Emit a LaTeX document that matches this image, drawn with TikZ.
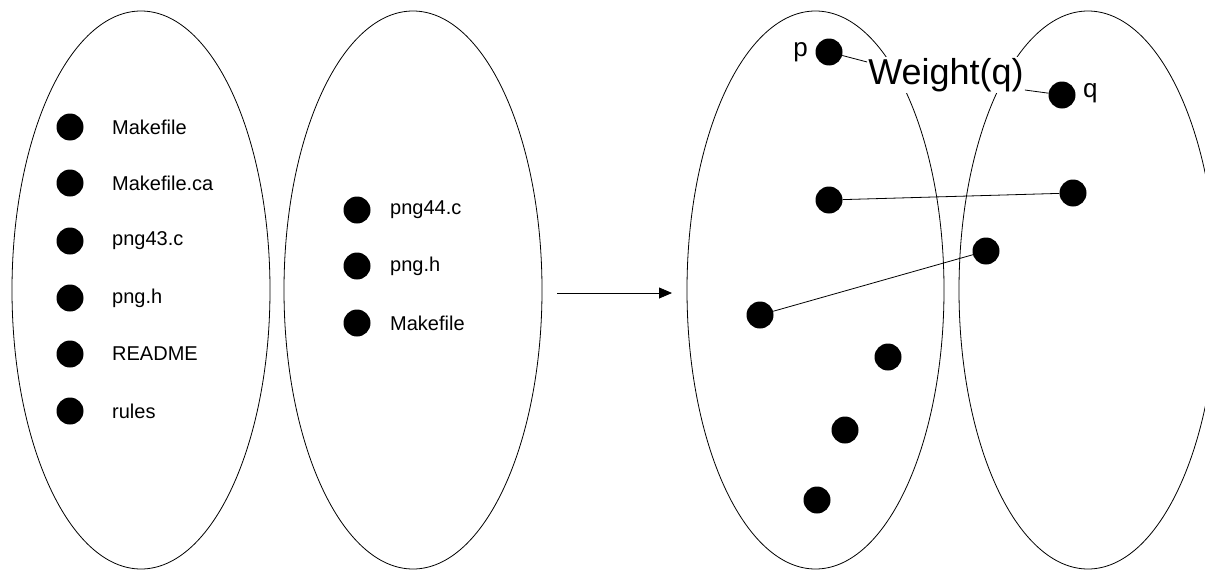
\documentclass[tikz,border=0pt]{standalone}
\usepackage{fontspec}
\setmainfont{Liberation Sans}
\usetikzlibrary{arrows.meta}
\tikzset{
  dot/.style={circle, fill=black, inner sep=0pt, minimum size=27pt},
  lbl/.style={anchor=west, inner sep=0pt, font=\fontsize{20}{24}\selectfont},
  ptlbl/.style={inner sep=0pt, font=\fontsize{26}{30}\selectfont},
  setoval/.style={draw, line width=0.8pt},
  link/.style={line width=0.8pt},
}
\begin{document}
\begin{tikzpicture}[x=1pt, y=-1pt]
\useasboundingbox (0,0) rectangle (1205,570);

% four sets
\draw[setoval] (141,290) ellipse [x radius=129pt, y radius=279pt];
\draw[setoval] (413,290) ellipse [x radius=129pt, y radius=279pt];
\draw[setoval] (815.5,290) ellipse [x radius=128.5pt, y radius=279pt];
\draw[setoval] (1088,290) ellipse [x radius=129pt, y radius=279pt];

% first directory
\foreach \i/\y/\t in {1/127/Makefile, 2/183/Makefile.ca, 3/241/png43.c, 4/298/png.h, 5/354/README, 6/411/rules}{
  \node[dot] (a\i) at (70,\y) {};
  \node[lbl] (at\i) at (112,\y) {\t};
}

% second directory
\foreach \i/\y/\t in {1/210/png44.c, 2/266/png.h, 3/323/Makefile}{
  \node[dot] (b\i) at (357,\y) {};
  \node[lbl] (bt\i) at (390,\y) {\t};
}

% transformation arrow
\coordinate (s) at (557,293);
\coordinate (e) at (672,293);
\draw[link, -{Triangle[length=13pt, width=11pt]}] (s) -- (e);

% matched points
\node[dot] (p) at (829,52) {};
\node[ptlbl, anchor=east] (pl) at (808,52) {p};
\node[dot] (q) at (1062,95) {};
\node[ptlbl, anchor=west] (ql) at (1083,93) {q};
\node[fill=white, inner sep=1pt, font=\fontsize{36}{40}\selectfont] (w) at (946,75) {Weight(q)};
\draw[link] (p) -- (w.west |- 0,62);
\draw[link] (w.east |- 0,90) -- (q);

\node[dot] (c1) at (829,200) {};
\node[dot] (d1) at (1073,193) {};
\node[dot] (d2) at (986,251) {};
\node[dot] (c2) at (760,315) {};
\node[dot] (c3) at (888,357) {};
\node[dot] (c4) at (845,430) {};
\node[dot] (c5) at (817,500) {};
\draw[link] (c1) -- (d1);
\draw[link] (c2) -- (d2);
\end{tikzpicture}
\end{document}
